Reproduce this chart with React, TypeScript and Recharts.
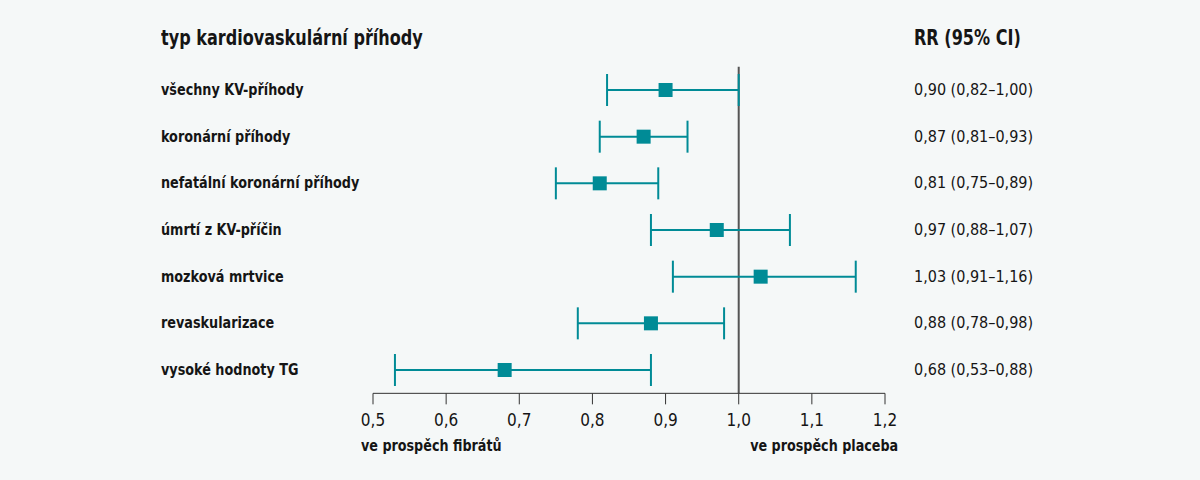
import React from 'react';
import { ScatterChart, Scatter, XAxis, YAxis, ErrorBar, ReferenceLine } from 'recharts';

const categories = [
  'všechny KV-příhody',
  'koronární příhody',
  'nefatální koronární příhody',
  'úmrtí z KV-příčin',
  'mozková mrtvice',
  'revaskularizace',
  'vysoké hodnoty TG',
];
const rrValues = [0.9, 0.87, 0.81, 0.97, 1.03, 0.88, 0.68];
const ciLow = [0.82, 0.81, 0.75, 0.88, 0.91, 0.78, 0.53];
const ciHigh = [1.0, 0.93, 0.89, 1.07, 1.16, 0.98, 0.88];
const xTicks = [0.5, 0.6, 0.7, 0.8, 0.9, 1.0, 1.1, 1.2];
const rowTicks = [1, 2, 3, 4, 5, 6, 7];

const FONT = "'DejaVu Sans Condensed', 'DejaVu Sans', sans-serif";
const TEAL = '#008b96';
const BG = '#f5f8f8';
const TEXT = '#151515';

const fmt = (v: number, d: number) => v.toFixed(d).replace('.', ',');
const rrLabels = rrValues.map(
  (v, i) => `${fmt(v, 2)} (${fmt(ciLow[i], 2)}–${fmt(ciHigh[i], 2)})`
);

const data = categories.map((c, i) => ({
  row: i + 1,
  rr: rrValues[i],
  err: [rrValues[i] - ciLow[i], ciHigh[i] - rrValues[i]],
  name: c,
}));

const RowTick = (props: any) => {
  const { y, payload } = props;
  const i = payload.value - 1;
  return (
    <g>
      <text
        transform={`translate(161 ${y}) scale(0.89 1)`}
        x={0}
        y={0}
        dy={5}
        fontFamily={FONT}
        fontWeight={700}
        fontSize={16}
        fill={TEXT}
      >
        {categories[i]}
      </text>
      <text x={914} y={y} dy={5} fontFamily={FONT} fontWeight={400} fontSize={16} fill={TEXT}>
        {rrLabels[i]}
      </text>
    </g>
  );
};

const Square = (props: any) => {
  const { cx, cy } = props;
  return <rect x={cx - 7} y={cy - 7} width={14} height={14} fill={TEAL} />;
};

const headerStyle: React.CSSProperties = {
  position: 'absolute',
  fontFamily: FONT,
  fontWeight: 700,
  fontSize: 21,
  lineHeight: '24px',
  color: TEXT,
  whiteSpace: 'nowrap',
  transform: 'scaleX(0.85)',
  transformOrigin: 'left top',
};
const captionStyle: React.CSSProperties = {
  position: 'absolute',
  fontFamily: FONT,
  fontWeight: 700,
  fontSize: 16,
  lineHeight: '18px',
  color: TEXT,
  whiteSpace: 'nowrap',
  transform: 'scaleX(0.885)',
};

export default function App() {
  return (
    <div style={{ position: 'absolute', left: 0, top: 0, width: 1200, height: 480, background: BG }}>
      <ScatterChart
        width={1200}
        height={480}
        margin={{ top: 66.67, right: 315, bottom: 56.67, left: 161 }}
      >
        <XAxis
          type="number"
          dataKey="rr"
          domain={[0.5, 1.2]}
          ticks={xTicks}
          allowDataOverflow
          tickFormatter={(v: number) => fmt(v, 1)}
          height={30}
          tickSize={11}
          tickMargin={10}
          stroke="#333"
          tick={{ fill: TEXT, fontFamily: FONT, fontSize: 17 }}
        />
        <YAxis
          type="number"
          dataKey="row"
          domain={[0.5, 7.5]}
          ticks={rowTicks}
          reversed
          width={212}
          axisLine={false}
          tickLine={false}
          tick={<RowTick />}
        />
        <ReferenceLine x={1} stroke="#555" strokeWidth={2} />
        <Scatter data={data} shape={<Square />} isAnimationActive={false}>
          <ErrorBar dataKey="err" direction="x" width={16} stroke={TEAL} strokeWidth={2} />
        </Scatter>
      </ScatterChart>
      <div style={{ ...headerStyle, left: 161, top: 26 }}>typ kardiovaskulární příhody</div>
      <div style={{ ...headerStyle, left: 914, top: 26 }}>RR (95% CI)</div>
      <div style={{ ...captionStyle, left: 361, top: 437, transformOrigin: 'left top' }}>
        ve prospěch fibrátů
      </div>
      <div style={{ ...captionStyle, right: 1200 - 898, top: 437, transformOrigin: 'right top' }}>
        ve prospěch placeba
      </div>
    </div>
  );
}
